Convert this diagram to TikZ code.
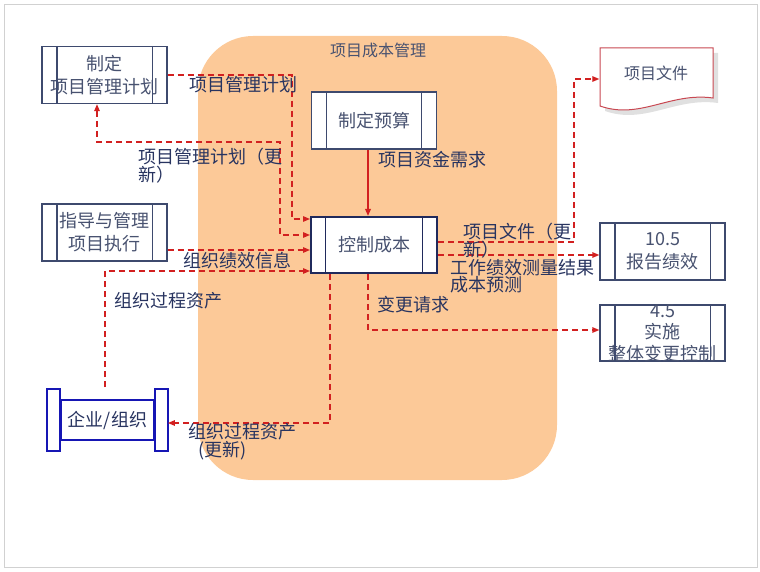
\documentclass[tikz,border=0pt]{standalone}
\usepackage{fontspec}
\setmainfont{Noto Sans CJK SC}
\usepackage{xcolor}
\usepackage{tikz}
\usetikzlibrary{arrows.meta}
\definecolor{costbg}{RGB}{252, 201, 152}
\definecolor{flowred}{RGB}{210, 32, 32}
\definecolor{boxline}{RGB}{62, 74, 110}
\definecolor{ctrlline}{RGB}{32, 42, 92}
\definecolor{boxtext}{RGB}{72, 82, 112}
\definecolor{labeltext}{RGB}{40, 52, 96}
\definecolor{orgblue}{RGB}{22, 22, 180}
\definecolor{docred}{RGB}{200, 72, 82}
\newcommand{\boxfont}{\fontsize{18}{23}\selectfont}
\newcommand{\smallfont}{\fontsize{16}{20}\selectfont}
\newcommand{\sidebars}[2][boxline]{
\draw[#1, line width=1.3pt] ([xshift=15.5pt]#2.north west) -- ([xshift=15.5pt]#2.south west);
\draw[#1, line width=1.3pt] ([xshift=-15.5pt]#2.north east) -- ([xshift=-15.5pt]#2.south east);
}
\newcommand{\scrollends}[1]{
\draw[orgblue, line width=1.8pt, fill=white] ([yshift=10pt]#1.north west) rectangle ([xshift=-13pt,yshift=-10pt]#1.south west);
\draw[orgblue, line width=1.8pt, fill=white] ([yshift=10pt]#1.north east) rectangle ([xshift=13pt,yshift=-10pt]#1.south east);
}

\begin{document}
\begin{tikzpicture}[x=1pt, y=-1pt, >={Triangle[length=7pt,width=5.5pt]},
    procbox/.style={draw=boxline, line width=1.3pt, fill=white, minimum width=125pt,
        minimum height=57pt, inner sep=0pt, text=boxtext, font=\boxfont, align=center},
    flow/.style={flowred, line width=1.3pt, dash pattern=on 6pt off 4pt},
    lbl/.style={text=labeltext, font=\boxfont, inner sep=0pt}]
    \useasboundingbox (0,0) rectangle (760,572);
    \draw[black!18, line width=1pt] (4,5) rectangle (757,567);

    % cost management area
    \fill[costbg, rounded corners=55pt] (198,36) rectangle (557,480);
    \node[text=boxtext, font=\smallfont] (title) at (378,50) {项目成本管理};

    % process boxes
    \node[procbox] (plan) at (104.5,75) {制定\\项目管理计划};
    \sidebars{plan}
    \node[procbox] (budget) at (374,120.5) {制定预算};
    \sidebars{budget}
    \node[procbox, draw=ctrlline, line width=2pt, minimum width=126pt, minimum height=56pt] (ctrl) at (374,245) {控制成本};
    \sidebars[ctrlline]{ctrl}
    \node[procbox] (exec) at (104.5,232.5) {指导与管理\\项目执行};
    \sidebars{exec}
    \node[procbox] (rpt) at (662.5,251.5) {10.5\\报告绩效};
    \sidebars{rpt}
    \node[procbox, minimum height=56pt, label={[text=boxtext, font=\fontsize{18}{21.5}\selectfont, align=center]center:4.5\\实施\\整体变更控制}] (chg) at (662.5,333) {};
    \sidebars{chg}

    % enterprise
    \node[draw=orgblue, line width=1.8pt, fill=white, minimum width=93pt, minimum height=40pt,
        inner sep=0pt, text=labeltext, font=\boxfont] (org) at (107.5,420) {企业/组织};
    \scrollends{org}

    % project documents
    \begin{scope}[shift={(5,5)}]
        \fill[black!12] (600,48) -- (713,48) -- (713,98) .. controls (670,92) and (640,120) .. (600,106) -- cycle;
    \end{scope}
    \draw[docred, line width=1pt, fill=white] (600,48) -- (713,48) -- (713,98) .. controls (670,92) and (640,120) .. (600,106) -- cycle;
    \node[text=boxtext, font=\smallfont, minimum width=113pt, inner sep=0pt] (doc) at (656,73) {项目文件};

    % inputs of control costs
    \coordinate (in1) at ([yshift=26pt]ctrl.west);
    \coordinate (in2) at ([yshift=10pt]ctrl.west);
    \coordinate (in3) at ([yshift=-5pt]ctrl.west);
    \coordinate (in4) at ([yshift=-26pt]ctrl.west);
    \draw[flow, ->] (plan.east) -| (292,219) -- (in1);
    \draw[flow, <->] ([xshift=-7.5pt]plan.south) |- (280,142) |- (in2);
    \draw[flow, ->] (in3 -| exec.east) -- (in3);
    \draw[flow, ->] ([xshift=-2.5pt,yshift=12pt]org.north) |- (in4);
    \draw[flowred, line width=2pt, ->] ([xshift=-6pt]budget.south) -- ([xshift=-6pt]ctrl.north);

    % outputs of control costs
    \coordinate (out1) at ([yshift=3pt]ctrl.east);
    \coordinate (out2) at ([yshift=-10pt]ctrl.east);
    \draw[flow, ->] (out1) -| (574,79) -- ([yshift=-6pt]doc.west);
    \draw[flow, ->] (out2) -- (out2 -| rpt.west);
    \draw[flow, ->] ([xshift=-6pt]ctrl.south) |- ([yshift=3pt]chg.west);
    \draw[flow, ->] ([xshift=-44pt]ctrl.south) |- ([xshift=13pt,yshift=-3pt]org.east);

    % flow labels
    \node[lbl] (l1) at (243,85) {项目管理计划};
    \node[lbl, font=\fontsize{18}{13}\selectfont, align=left, anchor=north west] (l2) at (138,148) {项目管理计划（更\\新）};
    \node[lbl] (l3) at (432,160) {项目资金需求};
    \node[lbl] (l4) at (237,261) {组织绩效信息};
    \node[lbl] (l5) at (168,301) {组织过程资产};
    \node[lbl, font=\fontsize{18}{12}\selectfont, align=left, anchor=north west] (l6) at (463,223) {项目文件（更\\新）};
    \node[lbl, font=\fontsize{18}{15}\selectfont, align=left, anchor=north west] (l7) at (450,259) {工作绩效测量结果\\成本预测};
    \node[lbl] (l8) at (413,305) {变更请求};
    \node[lbl, font=\fontsize{18}{14}\selectfont, align=left, anchor=north west] (l9) at (188,423) {组织过程资产\\\hspace{10pt}(更新)};
\end{tikzpicture}
\end{document}
